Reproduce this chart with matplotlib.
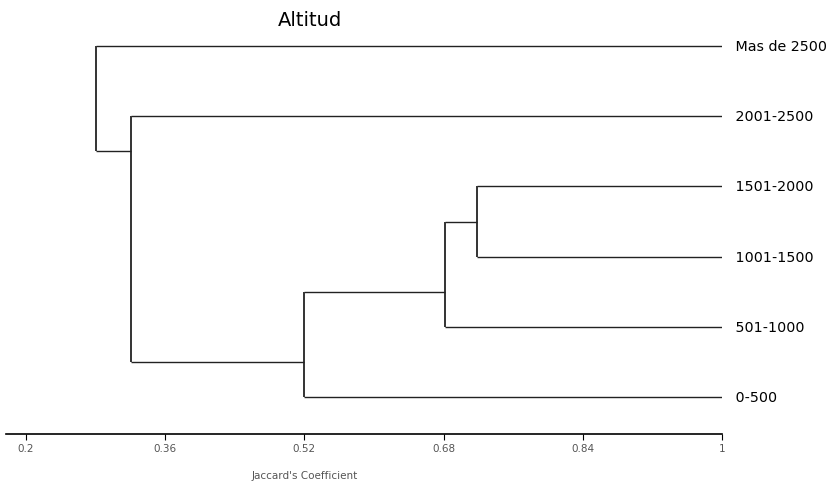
import matplotlib
matplotlib.use("Agg")
import matplotlib.pyplot as plt

# leaves, top to bottom
leaves = ["Mas de 2500", "2001-2500", "1501-2000", "1001-1500", "501-1000", "0-500"]

# merges: (child a, child b, Jaccard similarity, drawn row of the new node)
# children are leaf indices (0-5) or earlier nodes ("n0", "n1", ...)
merge_a = [2, "n0", "n1", 1, 0]
merge_b = [3, 4, 5, "n2", "n3"]
merge_sim = [0.718, 0.682, 0.52, 0.321, 0.281]
merge_row = [2.5, 3.5, 4.5, 1.5, 0.75]

ticks = [0.2, 0.36, 0.52, 0.68, 0.84, 1.0]
tick_labels = ["0.2", "0.36", "0.52", "0.68", "0.84", "1"]


def main():
    fig = plt.figure(figsize=(8.35, 4.89), dpi=100)
    ax = fig.add_axes([6 / 835, (489 - 434.5) / 489, (722 - 6) / 835, (434.5 - 20) / 489])

    pos = {i: (1.0, i) for i in range(len(leaves))}
    for k, (a, b, s, r) in enumerate(zip(merge_a, merge_b, merge_sim, merge_row)):
        for c in (a, b):
            cx, cy = pos[c]
            ax.plot([s, cx], [cy, cy], color="#222222", lw=1.0, solid_capstyle="butt")
        ya, yb = pos[a][1], pos[b][1]
        ax.plot([s, s], [ya, yb], color="#333333", lw=1.4, solid_capstyle="butt")
        pos["n%d" % k] = (s, r)

    for i, name in enumerate(leaves):
        ax.text(1.0, i, "   " + name, fontsize=10.3, va="center", ha="left",
                family="DejaVu Sans", clip_on=False)

    ax.set_xlim(0.2 - 20 / 870, 1.0)
    ax.set_ylim(5 + 36.5 / 70.2, -27 / 70.2)
    for side in ["top", "right", "left"]:
        ax.spines[side].set_visible(False)
    ax.spines["bottom"].set_linewidth(1.2)
    ax.set_yticks([])
    ax.set_xticks(ticks)
    ax.set_xticklabels(tick_labels, fontsize=7.5, color="#555555")
    ax.tick_params(axis="x", direction="out", length=4, width=0.8, pad=3)

    fig.text(310 / 835, 1 - 20 / 489, "Altitud", fontsize=14, ha="center", va="center")
    fig.text(305 / 835, 1 - 476 / 489, "Jaccard's Coefficient", fontsize=7.5,
             color="#555555", ha="center", va="center")

    fig.savefig("out.png", dpi=100)


if __name__ == "__main__":
    main()
